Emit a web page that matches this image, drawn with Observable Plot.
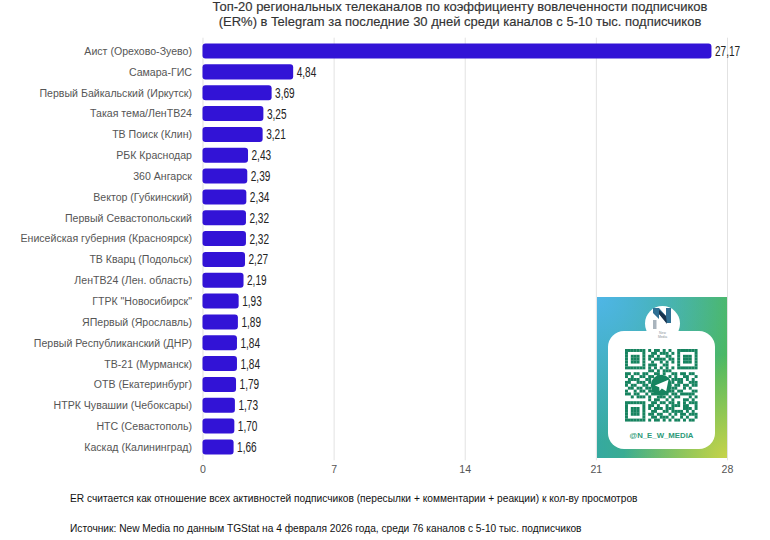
<!DOCTYPE html>
<html><head><meta charset="utf-8">
<script src="https://cdn.jsdelivr.net/npm/d3@7"></script>
<script src="https://cdn.jsdelivr.net/npm/@observablehq/plot@0.6"></script>
<style>
html,body{margin:0;padding:0;background:#fff;}
#page{position:relative;width:770px;height:540px;overflow:hidden;font-family:"Liberation Sans",Arial,sans-serif;}
#title{position:absolute;left:150px;width:620px;top:-1px;text-align:center;font-size:13px;line-height:15px;color:#333;-webkit-text-stroke:0.15px #333;}
#chart{position:absolute;left:0;top:30px;}
.note{position:absolute;left:70px;font-size:10.2px;color:#111;white-space:nowrap;}
#qr{position:absolute;left:597px;top:297px;width:130px;height:161px;background:radial-gradient(circle at 0 0,#4fb6e6 0,rgba(79,182,230,0) 70%),radial-gradient(circle at 100% 100%,#c6d34a 0,rgba(198,211,74,0) 50%),linear-gradient(to right,#35a9a0,#4bb860);}
#card{position:absolute;left:11px;top:34px;width:107px;height:118px;background:#fff;border-radius:16px;}
#logo{position:absolute;left:48px;top:9px;width:35px;height:35px;background:#fff;border-radius:50%;}
#handle{position:absolute;left:0;right:0;top:100px;text-align:center;font-size:7.8px;font-weight:bold;color:#2d9a78;}
#logo svg,#code svg{display:block;}
#code{position:absolute;left:17px;top:18px;}
</style></head><body>
<div id="page">
<div id="title"></div>
<div id="chart"></div>
<div class="note" id="n1" style="top:493px"></div>
<div class="note" id="n2" style="top:523px"></div>
<div id="qr"><div id="card"><div id="code"></div><div id="handle"></div></div><div id="logo"></div></div>
</div>
<script>
const titleLines = ["Топ-20 региональных телеканалов по коэффициенту вовлеченности подписчиков","(ER%) в Telegram за последние 30 дней среди каналов с 5-10 тыс. подписчиков"];
const channels = ["Аист (Орехово-Зуево)","Самара-ГИС","Первый Байкальский (Иркутск)","Такая тема/ЛенТВ24","ТВ Поиск (Клин)","РБК Краснодар","360 Ангарск","Вектор (Губкинский)","Первый Севастопольский","Енисейская губерния (Красноярск)","ТВ Кварц (Подольск)","ЛенТВ24 (Лен. область)","ГТРК \"Новосибирск\"","ЯПервый (Ярославль)","Первый Республиканский (ДНР)","ТВ-21 (Мурманск)","ОТВ (Екатеринбург)","НТРК Чувашии (Чебоксары)","НТС (Севастополь)","Каскад (Калининград)"];
const er = [27.17,4.84,3.69,3.25,3.21,2.43,2.39,2.34,2.32,2.32,2.27,2.19,1.93,1.89,1.84,1.84,1.79,1.73,1.70,1.66];
const xTicks = [0,7,14,21,28];
const note1 = "ER считается как отношение всех активностей подписчиков (пересылки + комментарии + реакции) к кол-ву просмотров";
const note2 = "Источник: New Media по данным TGStat на 4 февраля 2026 года, среди 76 каналов с 5-10 тыс. подписчиков";
const handle = "@N_E_W_MEDIA";
const qrRows = [
"1111111010110101001111111",
"1000001001101110101000001",
"1011101011010011001011101",
"1011101010111101101011101",
"1011101001001010101011101",
"1000001011100110001000001",
"1111111010101010101111111",
"0000000011010111000000000",
"1101101100110100110110110",
"1010011011011001010011001",
"0111100110000000111101010",
"1100111010000000101100111",
"1011001100000000011011011",
"0110110110000000110010100",
"1001011011000001101100011",
"1101100101101010110111110",
"0010111010011101011000101",
"0000000010110010100011010",
"1111111001101101101010111",
"1000001011010010111011001",
"1011101010111011100011101",
"1011101001100110111101010",
"1011101011011001010110111",
"1000001001101110100101001",
"1111111010110101011010110"];

document.getElementById("title").innerHTML = titleLines.join("<br>");
document.getElementById("n1").textContent = note1;
document.getElementById("n2").textContent = note2;
document.getElementById("handle").textContent = handle;

const rows = channels.map((name,i)=>({name,value:er[i]}));
const fmt = v => v.toFixed(2).replace(".",",");
const chart = Plot.plot({
  width:770,height:442.3,
  marginLeft:202.5,marginRight:43,marginTop:7.7,marginBottom:12,
  style:{background:"transparent",fontFamily:"'Liberation Sans',Arial,sans-serif",fontSize:"10.6px",overflow:"visible"},
  x:{domain:[0,28],ticks:xTicks,label:null},
  y:{domain:channels,label:null,padding:0.28,align:0.5,round:false},
  marks:[
    Plot.gridX(xTicks,{stroke:"#e2e2e2",strokeOpacity:1,strokeWidth:1}),
    Plot.axisX({ticks:xTicks,tickSize:0,tickPadding:5,label:null,color:"#555",fontSize:10.6,anchor:"bottom"}),
    Plot.axisY({tickSize:0,tickPadding:11,label:null,color:"#555",fontSize:10.6,lineWidth:40}),
    Plot.barX(rows,{x:"value",y:"name",fill:"#3213d6",rx:3,ry:3,sort:null}),
    Plot.text(rows,{x:"value",y:"name",text:d=>fmt(d.value),textAnchor:"start",dx:3,fill:"#222",fontSize:14,className:"vals"})
  ]
});
document.getElementById("chart").append(chart);
// value labels are set in a condensed face in the reference
chart.querySelectorAll(".vals text").forEach(t=>{
  const w=t.getComputedTextLength();
  t.setAttribute("textLength",(w*0.72).toFixed(1));
  t.setAttribute("lengthAdjust","spacingAndGlyphs");
});

const cell = 2.9;
const n = qrRows.length;
const ns = "http://www.w3.org/2000/svg";
const code = document.createElementNS(ns,"svg");
code.setAttribute("width",cell*n);code.setAttribute("height",cell*n);
code.setAttribute("viewBox",`0 0 ${n} ${n}`);
qrRows.forEach((row,r)=>[...row].forEach((c,k)=>{
  if(c==="1"){const e=document.createElementNS(ns,"rect");
    e.setAttribute("x",k);e.setAttribute("y",r);e.setAttribute("width",1.02);e.setAttribute("height",1.02);
    e.setAttribute("fill","#16835f");code.append(e);}
}));
const disc=document.createElementNS(ns,"circle");
disc.setAttribute("cx",12.5);disc.setAttribute("cy",12.5);disc.setAttribute("r",3.6);disc.setAttribute("fill","#16835f");code.append(disc);
const plane=document.createElementNS(ns,"path");
plane.setAttribute("d","M10.3 12.6 L15 10.6 L14.2 14.6 L12.7 13.6 L11.9 14.5 L11.8 13.2 Z");plane.setAttribute("fill","#fff");code.append(plane);
document.getElementById("code").append(code);

document.getElementById("logo").innerHTML = `<svg width="35" height="35" viewBox="0 0 35 35"><path d="M8 2 H14 L21 10 V2 H26 V17 H22 L14 8 V13 L8 7 Z" fill="#2f6f94"/><path d="M14 4 L21 10 L22 18 L14 8 Z" fill="#17324d"/><rect x="8" y="14" width="3.5" height="9" fill="#a9b4bd"/><text x="17.5" y="28" text-anchor="middle" font-size="3.4" fill="#8a949c" font-family="Liberation Sans">New</text><text x="17.5" y="32" text-anchor="middle" font-size="3.4" fill="#8a949c" font-family="Liberation Sans">Media</text></svg>`;
</script>
</body></html>
